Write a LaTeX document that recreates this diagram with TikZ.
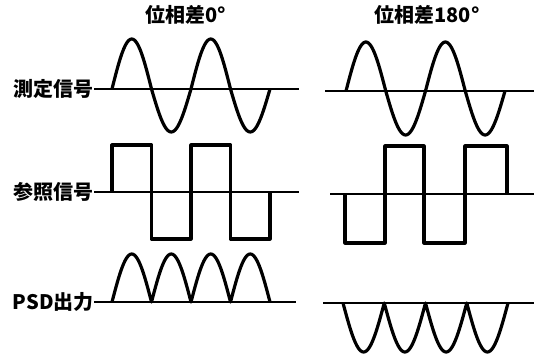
\documentclass[tikz,border=0pt]{standalone}
\usepackage{fontspec}
\usetikzlibrary{positioning}
\newfontfamily\cjk{Noto Sans CJK JP}
\tikzset{wave/.style={line width=1.6pt, line join=round, black}, baseline/.style={line width=1pt, black}, lab/.style={font=\cjk\bfseries\fontsize{10}{12}\selectfont, inner sep=0pt}}
\begin{document}
\begin{tikzpicture}[x=0.5pt,y=-0.5pt]
\useasboundingbox (0,0) rectangle (534,354);
\node[lab] (head0) at (186,15) {位相差0°}; \node[lab] (head180) at (427,15) {位相差180°};
\node[lab,anchor=east] (meas) at (94,89) {測定信号}; \node[lab,anchor=east] (ref) at (94,192) {参照信号}; \node[lab,anchor=east] (psd) at (94,302) {PSD出力};
% base lines
\coordinate (measend) at (299,89); \coordinate (refend) at (299,192); \coordinate (psdend) at (296,302);
\coordinate (measR) at (325,91); \coordinate (measRend) at (534,91); \coordinate (refR) at (330,194); \coordinate (refRend) at (534,194); \coordinate (psdR) at (323,303); \coordinate (psdRend) at (534,303);
\draw[baseline] (meas.east) -- (measend); \draw[baseline] (ref.east) -- (refend); \draw[baseline] (psd.east) -- (psdend);
\draw[baseline] (measR) -- (measRend); \draw[baseline] (refR) -- (refRend); \draw[baseline] (psdR) -- (psdRend);
% phase 0
\draw[wave] plot[domain=0:720,samples=121] ({112+\x/720*158},{89-(sin(\x)>0?50:43)*sin(\x)});
\draw[wave] (112,192) -- (112,145) -- (151.5,145) -- (151.5,239) -- (191,239) -- (191,145) -- (230.5,145) -- (230.5,239) -- (270,239) -- (270,192);
\draw[wave] plot[domain=0:720,samples=121] ({112+\x/720*158},{302-48*abs(sin(\x))});
% phase 180
\draw[wave] plot[domain=0:720,samples=121] ({346+\x/720*159},{91-(sin(\x)>0?49:44)*sin(\x)});
\draw[wave] (345,194) -- (345,243) -- (385,243) -- (385,146) -- (424,146) -- (424,243) -- (465,243) -- (465,146) -- (507,146) -- (507,194);
\draw[wave] plot[domain=0:720,samples=121] ({343+\x/720*165},{303+49*abs(sin(\x))});
\end{tikzpicture}
\end{document}
